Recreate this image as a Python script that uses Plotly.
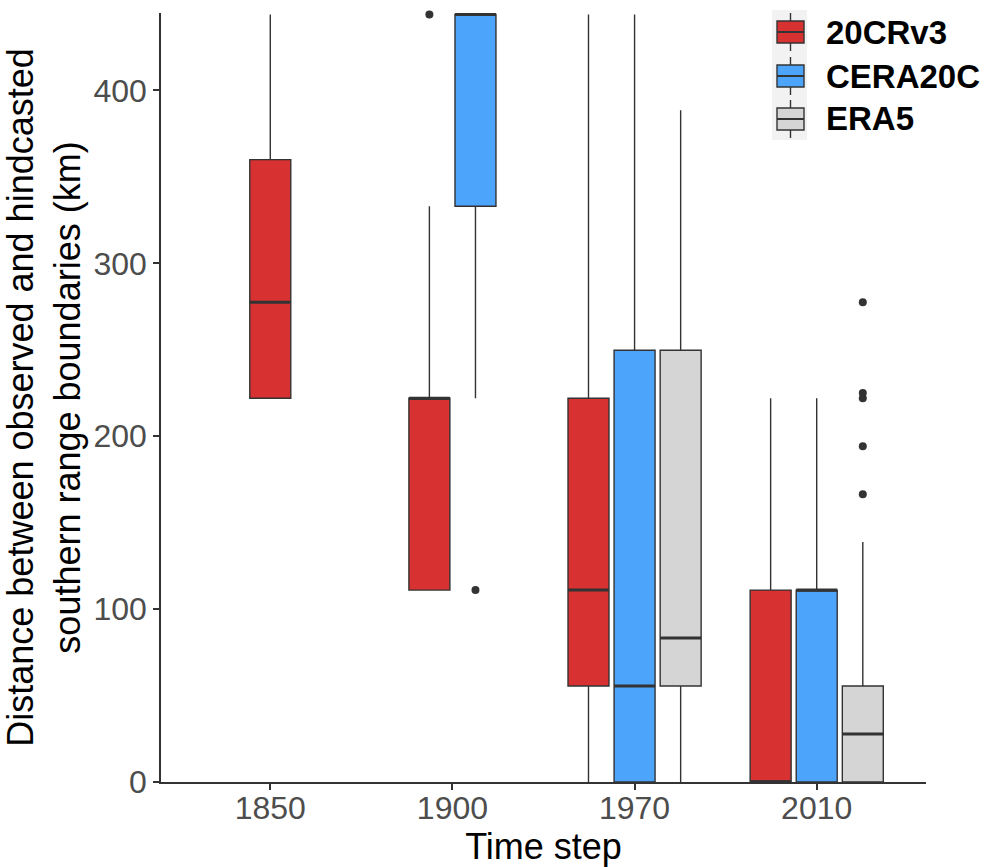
import plotly.graph_objects as go

# ---------------- data ----------------
periods = ["1850", "1900", "1970", "2010"]
datasets = ["20CRv3", "CERA20C", "ERA5"]

cr_q1 = [222, 111, 55.5, 0]
cr_med = [277.5, 222, 111, 0]
cr_q3 = [360, 222, 222, 111]
cr_lo = [222, 111, 0, 0]
cr_hi = [444, 333, 444, 222]
cr_out = [[], [444], [], []]

cera_q1 = [None, 333, 0, 0]
cera_med = [None, 444, 55.5, 111]
cera_q3 = [None, 444, 249.75, 111]
cera_lo = [None, 222, 0, 0]
cera_hi = [None, 444, 444, 222]
cera_out = [[], [111], [], []]

era_q1 = [None, None, 55.5, 0]
era_med = [None, None, 83.25, 27.75]
era_q3 = [None, None, 249.75, 55.5]
era_lo = [None, None, 0, 0]
era_hi = [None, None, 388.5, 138.75]
era_out = [[], [], [], [166.5, 194.25, 222, 225, 277.5]]

y_ticks = [0, 100, 200, 300, 400]

# ---------------- styling ----------------
colors = {"20CRv3": "#D73131", "CERA20C": "#4CA5FB", "ERA5": "#D5D5D5"}
edge = "#333333"
box_w = 0.225
step = 0.253

stats = {
    "20CRv3": (cr_q1, cr_med, cr_q3, cr_lo, cr_hi, cr_out),
    "CERA20C": (cera_q1, cera_med, cera_q3, cera_lo, cera_hi, cera_out),
    "ERA5": (era_q1, era_med, era_q3, era_lo, era_hi, era_out),
}

# dodge positions (centred among boxes present in each period)
positions = {d: [None] * len(periods) for d in datasets}
for i in range(len(periods)):
    present = [d for d in datasets if stats[d][0][i] is not None]
    n = len(present)
    for k, d in enumerate(present):
        positions[d][i] = (i + 1) + (k - (n - 1) / 2) * step

fig = go.Figure()
for d in datasets:
    q1, med, q3, lo, hi, outs = stats[d]
    idx = [i for i in range(len(periods)) if q1[i] is not None]
    xs = [positions[d][i] for i in idx]
    fig.add_trace(go.Box(
        x=xs,
        q1=[q1[i] for i in idx],
        median=[med[i] for i in idx],
        q3=[q3[i] for i in idx],
        lowerfence=[lo[i] for i in idx],
        upperfence=[hi[i] for i in idx],
        width=box_w,
        whiskerwidth=0,
        fillcolor=colors[d],
        line=dict(color=edge, width=1.4),
        name=d,
        showlegend=False,
        boxpoints=False,
        hoverinfo="skip",
    ))
    # thicker median lines (ggplot style)
    mx, my = [], []
    for i in idx:
        mx += [positions[d][i] - box_w / 2, positions[d][i] + box_w / 2, None]
        my += [med[i], med[i], None]
    fig.add_trace(go.Scatter(x=mx, y=my, mode="lines",
                             line=dict(color=edge, width=3),
                             showlegend=False, hoverinfo="skip", cliponaxis=True))
    # outliers
    ox, oy = [], []
    for i in idx:
        for v in outs[i]:
            ox.append(positions[d][i])
            oy.append(v)
    if ox:
        fig.add_trace(go.Scatter(x=ox, y=oy, mode="markers",
                                 marker=dict(color=edge, size=8),
                                 showlegend=False, hoverinfo="skip", cliponaxis=False))

# ---------------- custom legend (ggplot-like keys) ----------------
L, R, T, B = 161, 926, 13, 782


def px(xp):
    return (xp - L) / (R - L)


def py(yp):
    return (B - yp) / (B - T)


shapes = []
shapes.append(dict(type="rect", xref="paper", yref="paper",
                   x0=px(772), x1=px(807), y0=py(140), y1=py(10),
                   fillcolor="#F2F2F2", line=dict(width=0), layer="below"))
annotations = []
row_centers = [32, 76, 119]
for d, yc in zip(datasets, row_centers):
    shapes.append(dict(type="line", xref="paper", yref="paper",
                       x0=px(790.5), x1=px(790.5), y0=py(yc + 19), y1=py(yc - 19),
                       line=dict(color=edge, width=1.4)))
    shapes.append(dict(type="rect", xref="paper", yref="paper",
                       x0=px(777), x1=px(804), y0=py(yc + 11), y1=py(yc - 11),
                       fillcolor=colors[d], line=dict(color=edge, width=1.4)))
    shapes.append(dict(type="line", xref="paper", yref="paper",
                       x0=px(777), x1=px(804), y0=py(yc), y1=py(yc),
                       line=dict(color=edge, width=2)))
    annotations.append(dict(xref="paper", yref="paper", x=px(824), y=py(yc),
                            text="<b>%s</b>" % d, showarrow=False,
                            xanchor="left", yanchor="middle",
                            font=dict(size=33, color="black",
                                      family="Liberation Sans, Arial, sans-serif")))

fig.update_layout(
    width=990, height=867,
    margin=dict(l=L, r=990 - R, t=T, b=867 - B),
    paper_bgcolor="white", plot_bgcolor="white",
    boxmode="overlay",
    font=dict(family="Liberation Sans, Arial, sans-serif"),
    shapes=shapes, annotations=annotations,
    xaxis=dict(
        range=[0.4, 4.6], automargin=False,
        tickmode="array", tickvals=[1, 2, 3, 4], ticktext=periods,
        showgrid=False, zeroline=False,
        showline=True, linecolor=edge, linewidth=1.5,
        ticks="outside", ticklen=6, tickcolor=edge, tickwidth=1.5,
        ticklabelstandoff=-9,
        tickfont=dict(size=32, color="#4D4D4D"),
        title=dict(text="Time step", font=dict(size=36, color="black"), standoff=2),
    ),
    yaxis=dict(
        range=[0, 444.8], automargin=False,
        tickmode="array", tickvals=y_ticks,
        showgrid=False, zeroline=False,
        showline=True, linecolor=edge, linewidth=1.5,
        ticks="outside", ticklen=6, tickcolor=edge, tickwidth=1.5,
        tickfont=dict(size=32, color="#4D4D4D"),
        title=dict(text="Distance between observed and hindcasted<br>southern range boundaries (km)",
                   font=dict(size=36, color="black"), standoff=6),
    ),
)

fig.write_html("out.html")
